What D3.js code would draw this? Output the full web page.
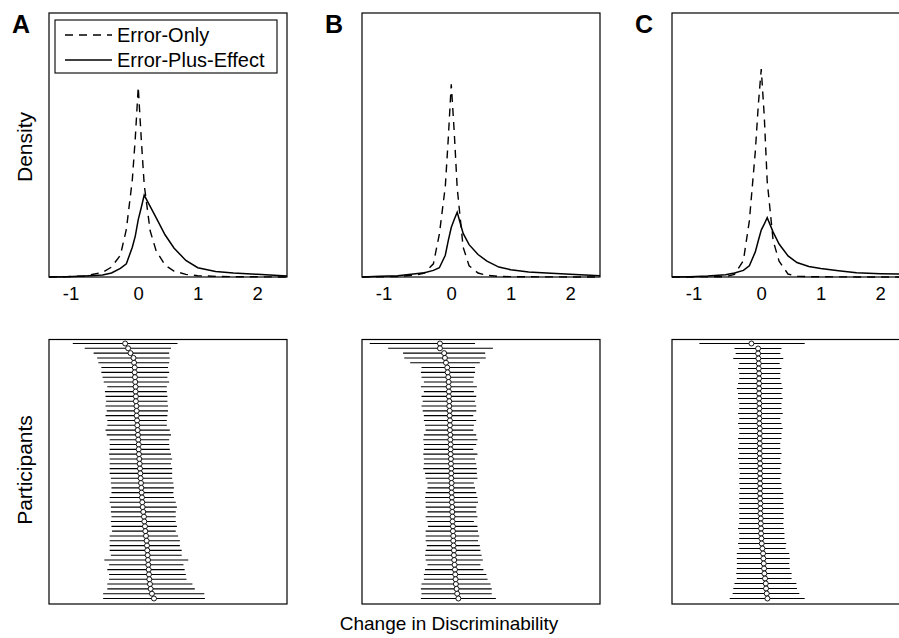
<!DOCTYPE html>
<html>
<head>
<meta charset="utf-8">
<script src="https://cdn.jsdelivr.net/npm/d3@7"></script>
<style>
  body { margin: 0; background: #fff; }
  svg { display: block; font-family: "Liberation Sans", Arial, Helvetica, sans-serif; }
</style>
</head>
<body>
<svg id="chart" width="899" height="638"></svg>
<script>
// density grid (change in discriminability)
const densX = [-1.5,-1.2,-0.9,-0.6,-0.45,-0.3,-0.2,-0.1,-0.05,0,0.05,0.1,0.2,0.3,0.45,0.6,0.8,1.0,1.3,1.6,2.0,2.5];

const errOnlyA = [0,0.005,0.015,0.07,0.15,0.33,0.72,1.47,2.1,2.88,2.1,1.4,0.7,0.4,0.18,0.09,0.04,0.02,0.01,0.005,0.003,0];
const effectA  = [0,0.005,0.015,0.03,0.06,0.13,0.2,0.45,0.62,0.87,1.05,1.24,1.07,0.9,0.64,0.44,0.25,0.14,0.085,0.06,0.04,0.015];
const errOnlyB = [0,0.003,0.008,0.03,0.06,0.2,0.65,1.37,2.1,2.92,2.2,1.35,0.45,0.17,0.06,0.025,0.01,0.005,0.003,0.002,0.001,0];
const effectB  = [0,0.01,0.02,0.05,0.065,0.1,0.14,0.33,0.55,0.75,0.87,0.98,0.66,0.49,0.34,0.24,0.15,0.11,0.075,0.06,0.04,0.02];
const errOnlyC = [0,0,0.002,0.005,0.04,0.25,0.85,1.9,2.6,3.15,2.45,1.45,0.55,0.24,0.045,0.01,0.005,0.003,0.002,0.001,0.001,0];
const effectC  = [0,0.005,0.015,0.035,0.06,0.1,0.17,0.38,0.55,0.71,0.8,0.9,0.68,0.5,0.32,0.22,0.16,0.13,0.095,0.065,0.05,0.04];

// participant estimates (sorted), with interval ends
const meanA = [-0.22,-0.17,-0.13,-0.08,-0.07,-0.06,-0.06,-0.055,-0.05,-0.045,-0.045,-0.04,-0.04,-0.03,-0.027,-0.027,-0.02,-0.016,-0.01,-0.005,0.0,0.007,0.007,0.012,0.018,0.024,0.029,0.035,
  0.04,0.046,0.052,0.057,0.063,0.068,0.074,0.085,0.096,0.102,0.113,0.119,0.13,0.141,0.147,0.152,0.158,0.164,0.169,0.175,0.18,0.186,0.197,0.208,0.23,0.264];
const loA = [-1.10,-0.90,-0.75,-0.69,-0.67,-0.62,-0.62,-0.60,-0.58,-0.52,-0.56,-0.55,-0.54,-0.55,-0.53,-0.55,-0.52,-0.52,-0.55,-0.53,-0.48,-0.48,-0.48,-0.49,-0.48,-0.48,-0.48,-0.48,
  -0.46,-0.46,-0.45,-0.45,-0.48,-0.48,-0.46,-0.46,-0.45,-0.46,-0.45,-0.44,-0.48,-0.48,-0.48,-0.48,-0.46,-0.57,-0.49,-0.52,-0.49,-0.49,-0.52,-0.52,-0.59,-0.59];
const hiA = [0.66,0.55,0.52,0.53,0.52,0.50,0.52,0.49,0.52,0.48,0.48,0.49,0.49,0.50,0.50,0.49,0.48,0.48,0.53,0.55,0.52,0.52,0.53,0.55,0.57,0.55,0.57,0.57,
  0.57,0.59,0.60,0.59,0.60,0.63,0.65,0.63,0.63,0.63,0.65,0.63,0.67,0.70,0.70,0.73,0.73,0.84,0.76,0.78,0.80,0.81,0.91,0.95,1.11,1.12];

const meanB = [-0.19,-0.19,-0.12,-0.106,-0.089,-0.067,-0.061,-0.05,-0.044,-0.044,-0.039,-0.039,-0.033,-0.033,-0.027,-0.027,-0.022,-0.022,-0.022,-0.016,-0.016,-0.011,-0.011,-0.011,-0.005,-0.005,0.0,0.0,
  0.0,0.006,0.006,0.006,0.011,0.011,0.017,0.017,0.022,0.022,0.028,0.028,0.034,0.034,0.039,0.045,0.045,0.05,0.056,0.062,0.067,0.073,0.078,0.09,0.1,0.12];
const loB = [-1.37,-1.06,-0.81,-0.79,-0.69,-0.50,-0.51,-0.50,-0.46,-0.51,-0.46,-0.50,-0.48,-0.50,-0.48,-0.46,-0.46,-0.44,-0.43,-0.46,-0.47,-0.46,-0.46,-0.47,-0.46,-0.46,-0.47,-0.44,
  -0.43,-0.40,-0.40,-0.43,-0.44,-0.43,-0.43,-0.40,-0.43,-0.40,-0.39,-0.43,-0.43,-0.43,-0.41,-0.43,-0.44,-0.43,-0.40,-0.44,-0.46,-0.46,-0.50,-0.51,-0.50,-0.51];
const hiB = [0.40,0.70,0.57,0.58,0.48,0.40,0.40,0.38,0.37,0.43,0.38,0.42,0.40,0.42,0.42,0.37,0.42,0.38,0.37,0.42,0.44,0.42,0.37,0.44,0.40,0.42,0.43,0.43,
  0.44,0.38,0.40,0.42,0.44,0.45,0.42,0.42,0.44,0.38,0.44,0.45,0.47,0.45,0.48,0.49,0.51,0.53,0.49,0.54,0.59,0.61,0.66,0.68,0.68,0.75];

const meanC = [-0.165,-0.053,-0.053,-0.048,-0.042,-0.042,-0.036,-0.036,-0.036,-0.036,-0.036,-0.036,-0.031,-0.031,-0.031,-0.031,-0.031,-0.025,-0.025,-0.025,-0.025,-0.025,-0.025,-0.025,-0.02,-0.02,-0.02,
  -0.02,-0.02,-0.02,-0.02,-0.02,-0.014,-0.014,-0.014,-0.008,-0.008,-0.003,-0.003,0.003,0.008,0.02,0.031,0.036,0.042,0.048,0.053,0.064,0.076,0.081,0.092,0.104];
const loC = [-1.04,-0.45,-0.43,-0.47,-0.37,-0.39,-0.37,-0.37,-0.39,-0.41,-0.39,-0.39,-0.37,-0.37,-0.39,-0.37,-0.39,-0.37,-0.37,-0.39,-0.37,-0.39,-0.37,-0.39,-0.37,-0.37,-0.36,
  -0.37,-0.37,-0.36,-0.37,-0.37,-0.37,-0.37,-0.37,-0.37,-0.37,-0.39,-0.37,-0.37,-0.39,-0.37,-0.41,-0.41,-0.41,-0.41,-0.42,-0.41,-0.45,-0.47,-0.48,-0.53];
const hiC = [0.73,0.34,0.32,0.37,0.31,0.34,0.32,0.32,0.34,0.36,0.34,0.36,0.34,0.34,0.36,0.32,0.34,0.36,0.34,0.34,0.32,0.32,0.34,0.32,0.34,0.32,0.34,
  0.32,0.34,0.34,0.37,0.37,0.37,0.38,0.37,0.38,0.37,0.38,0.39,0.39,0.42,0.41,0.47,0.48,0.47,0.48,0.51,0.51,0.59,0.60,0.64,0.73];

const panelLetters = ["A", "B", "C"];
const seriesNames = ["Error-Only", "Error-Plus-Effect"];
const tickVals = [-1, 0, 1, 2];

const panels = [
    {err: errOnlyA, eff: effectA, mean: meanA, lo: loA, hi: hiA},
    {err: errOnlyB, eff: effectB, mean: meanB, lo: loB, hi: hiB},
    {err: errOnlyC, eff: effectC, mean: meanC, lo: loC, hi: hiC}
];

// layout
var svg = d3.select("#chart");
var panelLeft = [49, 362, 672];
var panelW = 238;
var topRow = [13, 277];
var botRow = [339.5, 604];
var dashes = "8,6";

var yDens = d3.scaleLinear().domain([0, 4]).range([topRow[1], topRow[0]]);

panels.forEach(function (p, i) {
    var x = d3.scaleLinear().domain([-1.5, 2.5]).range([panelLeft[i], panelLeft[i] + panelW]);

    var line = d3.line()
        .x((d, k) => x(densX[k]))
        .y(d => yDens(d));

    svg.append("path")
        .attr("d", line(p.err))
        .attr("fill", "none")
        .attr("stroke", "#000")
        .attr("stroke-width", 1.4)
        .attr("stroke-dasharray", dashes);

    svg.append("path")
        .attr("d", line(p.eff))
        .attr("fill", "none")
        .attr("stroke", "#000")
        .attr("stroke-width", 1.5);

    // frame for density panel
    svg.append("rect")
        .attr("x", panelLeft[i]).attr("y", topRow[0])
        .attr("width", panelW).attr("height", topRow[1] - topRow[0])
        .attr("fill", "none").attr("stroke", "#000").attr("stroke-width", 1.2);

    var ax = svg.append("g")
        .attr("transform", "translate(0," + topRow[1] + ")")
        .call(d3.axisBottom(x).tickValues(tickVals).tickSize(0).tickPadding(10).tickFormat(d => String(d)));
    ax.select(".domain").remove();
    ax.attr("font-size", 18.5).attr("font-family", null);
    ax.selectAll("text")
        .attr("fill", "#000")
        // negative labels sit to the left of their tick in the original
        .attr("text-anchor", d => d < 0 ? "end" : "middle");

    svg.append("text")
        .attr("x", panelLeft[i] - 37)
        .attr("y", 33)
        .attr("font-size", 25)
        .attr("font-weight", "bold")
        .text(panelLetters[i]);

    // participants panel
    var yRow = d3.scalePoint()
        .domain(d3.range(p.mean.length))
        .range([botRow[0] + 4, botRow[1] - 5.5]);

    svg.append("g").selectAll("line")
        .data(p.mean)
        .enter().append("line")
        .attr("x1", (d, k) => x(p.lo[k]))
        .attr("x2", (d, k) => x(p.hi[k]))
        .attr("y1", (d, k) => yRow(k))
        .attr("y2", (d, k) => yRow(k))
        .attr("stroke", "#000")
        .attr("stroke-width", 1.1);

    svg.append("g").selectAll("circle")
        .data(p.mean)
        .enter().append("circle")
        .attr("cx", d => x(d))
        .attr("cy", (d, k) => yRow(k))
        .attr("r", 2.5)
        .attr("fill", "#fff")
        .attr("stroke", "#000")
        .attr("stroke-width", 0.9);

    svg.append("rect")
        .attr("x", panelLeft[i]).attr("y", botRow[0])
        .attr("width", panelW).attr("height", botRow[1] - botRow[0])
        .attr("fill", "none").attr("stroke", "#000").attr("stroke-width", 1.2);
});

// legend in panel A
var leg = svg.append("g");
leg.append("rect")
    .attr("x", 55).attr("y", 20).attr("width", 222).attr("height", 53)
    .attr("fill", "#fff").attr("stroke", "#000").attr("stroke-width", 1.1);
seriesNames.forEach(function (name, k) {
    var ly = 35 + k * 25;
    leg.append("line")
        .attr("x1", 65).attr("x2", 112).attr("y1", ly).attr("y2", ly)
        .attr("stroke", "#000").attr("stroke-width", 1.5)
        .attr("stroke-dasharray", k == 0 ? dashes : null);
    leg.append("text")
        .attr("x", 117).attr("y", ly)
        .attr("dy", "0.35em")
        .attr("font-size", 20)
        .text(name);
});

// axis titles
svg.append("text")
    .attr("transform", "translate(32,147) rotate(-90)")
    .attr("text-anchor", "middle")
    .attr("font-size", 21)
    .text("Density");

svg.append("text")
    .attr("transform", "translate(32,470) rotate(-90)")
    .attr("text-anchor", "middle")
    .attr("font-size", 21)
    .text("Participants");

svg.append("text")
    .attr("x", 449).attr("y", 630)
    .attr("text-anchor", "middle")
    .attr("font-size", 19)
    .text("Change in Discriminability");
</script>
</body>
</html>
